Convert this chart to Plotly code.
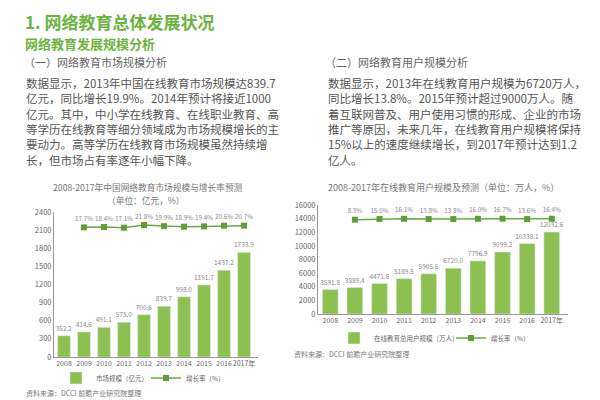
import plotly.graph_objects as go

# ---------------- data ----------------
years = ["2008", "2009", "2010", "2011", "2012", "2013", "2014", "2015", "2016", "2017年"]
market_size = [352.2, 414.6, 491.1, 575.0, 700.6, 839.7, 998.0, 1191.7, 1437.2, 1733.9]
market_growth_years = years[1:]
market_growth = [17.7, 18.4, 17.1, 21.8, 19.9, 18.9, 19.4, 20.6, 20.7]

users = [3591.8, 3889.4, 4471.8, 5189.5, 5905.6, 6720.0, 7796.9, 9099.2, 10338.1, 12032.6]
user_growth_years = years[1:]
user_growth = [8.3, 15.0, 16.1, 13.8, 13.8, 16.0, 16.7, 13.6, 16.4]

left_ticks = [0, 300, 600, 900, 1200, 1500, 1800, 2100, 2400]
right_ticks = [0, 2000, 4000, 6000, 8000, 10000, 12000, 14000, 16000]

title_main = "1. 网络教育总体发展状况"
title_sub = "网络教育发展规模分析"
left_head = "（一）网络教育市场规模分析"
right_head = "（二）网络教育用户规模分析"
left_para = [
    "数据显示，2013年中国在线教育市场规模达839.7",
    "亿元，同比增长19.9%。2014年预计将接近1000",
    "亿元。其中，中小学在线教育、在线职业教育、高",
    "等学历在线教育等细分领域成为市场规模增长的主",
    "要动力。高等学历在线教育市场规模虽然持续增",
    "长，但市场占有率逐年小幅下降。",
]
right_para = [
    "数据显示，2013年在线教育用户规模为6720万人，",
    "同比增长13.8%。2015年预计超过9000万人。随",
    "着互联网普及、用户使用习惯的形成、企业的市场",
    "推广等原因，未来几年，在线教育用户规模将保持",
    "15%以上的速度继续增长，到2017年预计达到1.2",
    "亿人。",
]
left_chart_title = ["2008-2017年中国网络教育市场规模与增长率预测", "（单位：亿元，%）"]
right_chart_title = "2008-2017年在线教育用户规模及预测（单位：万人，%）"
source = "资料来源：DCCI 前瞻产业研究院整理"

# ---------------- style ----------------
FONT = "Noto Sans CJK SC"
GREEN_HEAD = "#6db33f"
BAR = "#8cc152"
LINE = "#6aab3e"
MARK = "#5f9e35"
TXT = "#555555"
LBL = "#888888"
AX = "#999999"

# the page body has an 8px margin, so the figure is 592x392 placed at (8, 8)
OFF = 8
W, H = 600 - OFF, 400 - OFF
def px(x):
    return (x - OFF) / W
def py(y):
    return 1 - (y - OFF) / H

fig = go.Figure()

fig.add_trace(go.Bar(
    x=years, y=market_size, xaxis="x", yaxis="y",
    marker_color=BAR, width=0.64,
    text=[f"{v:.1f}" for v in market_size], textposition="outside", constraintext="none",
    textfont=dict(size=6.5, color=LBL), cliponaxis=False,
    name="市场规模（亿元）", legend="legend",
))
fig.add_trace(go.Scatter(
    x=market_growth_years, y=market_growth, xaxis="x", yaxis="y2",
    mode="lines+markers+text", line=dict(color=LINE, width=1.5),
    marker=dict(symbol="square", size=6, color=MARK),
    text=[f"{v:.1f}%" for v in market_growth], textposition="top center",
    textfont=dict(size=6.3, color=LBL), cliponaxis=False,
    name="增长率（%）", legend="legend",
))
fig.add_trace(go.Bar(
    x=years, y=users, xaxis="x2", yaxis="y3",
    marker_color=BAR, width=0.64,
    text=[f"{v:.1f}" for v in users], textposition="outside", constraintext="none",
    textfont=dict(size=6.5, color=LBL), cliponaxis=False,
    name="在线教育总用户规模（万人）", legend="legend2",
))
fig.add_trace(go.Scatter(
    x=user_growth_years, y=user_growth, xaxis="x2", yaxis="y4",
    mode="lines+markers+text", line=dict(color=LINE, width=1.5),
    marker=dict(symbol="square", size=6, color=MARK),
    text=[f"{v:.1f}%" for v in user_growth], textposition="top center",
    textfont=dict(size=6.3, color=LBL), cliponaxis=False,
    name="增长率（%）", legend="legend2",
))

axis_common = dict(showgrid=False, zeroline=False, showline=True, linecolor=AX, linewidth=1,
                   automargin=False)
xtick_font = dict(size=7, color="#666666", family=FONT)
ytick_font = dict(size=7.5, color="#666666", family=FONT)

annotations = []
def add_text(x, y, text, size, color, bold=False, xanchor="left"):
    t = f"<b>{text}</b>" if bold else text
    annotations.append(dict(x=px(x), y=py(y), xref="paper", yref="paper", text=t, showarrow=False,
                            xanchor=xanchor, yanchor="middle",
                            font=dict(size=size, color=color, family=FONT)))

add_text(23, 21, title_main, 17, GREEN_HEAD, bold=True)
add_text(23, 43, title_sub, 13, GREEN_HEAD, bold=True)
add_text(22, 62, left_head, 11, "#666666")
add_text(323, 62, right_head, 11, "#666666")
for i, line in enumerate(left_para):
    add_text(24, 83 + i * 15.3, line, 11.5, TXT)
for i, line in enumerate(right_para):
    add_text(326, 83 + i * 15.3, line, 11.5, TXT)
add_text(51, 188, left_chart_title[0], 8.7, "#777777")
add_text(146, 200, left_chart_title[1], 8.7, "#777777", xanchor="center")
add_text(326, 188, right_chart_title, 9, "#777777")
add_text(24, 393, source, 7, "#777777")
add_text(292, 354, source, 7, "#777777")

fig.update_layout(
    width=W, height=H, margin=dict(l=0, r=0, t=0, b=0, autoexpand=False),
    paper_bgcolor="white", plot_bgcolor="white",
    font=dict(family=FONT, color=TXT),
    showlegend=True, bargap=0.36,
    xaxis=dict(domain=[px(54), px(258)], anchor="y", type="category", ticks="",
               tickangle=0, tickfont=xtick_font, **axis_common),
    yaxis=dict(domain=[py(357), py(212)], range=[0, 2400], tickvals=left_ticks, anchor="x",
               ticks="", tickformat="d", tickfont=ytick_font, **axis_common),
    yaxis2=dict(overlaying="y", range=[-209.4, 44.6], visible=False, anchor="x"),
    xaxis2=dict(domain=[px(318), px(568)], anchor="y3", type="category", ticks="",
                tickangle=0, tickfont=xtick_font, **axis_common),
    yaxis3=dict(domain=[py(314), py(205)], range=[0, 16000], tickvals=right_ticks, anchor="x2",
                ticks="", tickformat="d", tickfont=ytick_font, **axis_common),
    yaxis4=dict(overlaying="y3", range=[-770, 130], visible=False, anchor="x2"),
    legend=dict(orientation="h", x=px(56), y=py(378), xanchor="left", yanchor="middle",
                font=dict(size=6.5, color="#666666", family=FONT), entrywidth=45,
                bgcolor="rgba(0,0,0,0)", itemwidth=30),
    legend2=dict(orientation="h", x=px(334), y=py(338), xanchor="left", yanchor="middle",
                 font=dict(size=6.5, color="#666666", family=FONT), entrywidth=72,
                 bgcolor="rgba(0,0,0,0)", itemwidth=30),
    annotations=annotations,
)

fig.write_html("out.html")
